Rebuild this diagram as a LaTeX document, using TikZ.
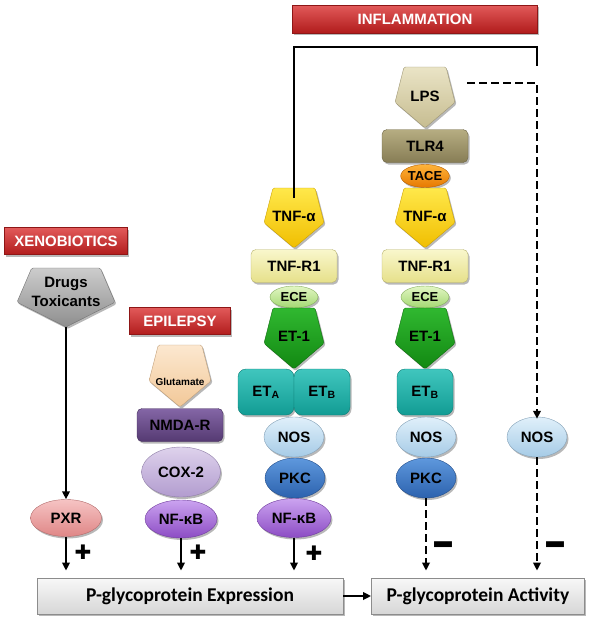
\documentclass[tikz,border=0pt]{standalone}
\usepackage{fontspec}
\setmainfont{Liberation Sans}
\newfontfamily\calib{Carlito}
\newfontfamily\signfont{DejaVu Sans}
\usetikzlibrary{shapes.geometric,shadows,arrows.meta}

\definecolor{redT}{HTML}{E25A5A}\definecolor{redB}{HTML}{B11C1C}
\definecolor{grayT}{HTML}{CCCCCC}\definecolor{grayB}{HTML}{8E8E8E}
\definecolor{peachT}{HTML}{FCE8D0}\definecolor{peachB}{HTML}{F2C898}
\definecolor{nmdaT}{HTML}{8466A6}\definecolor{nmdaB}{HTML}{553A72}
\definecolor{coxT}{HTML}{DED2EC}\definecolor{coxB}{HTML}{B29CCF}
\definecolor{nfkT}{HTML}{CBA3F0}\definecolor{nfkB}{HTML}{8C4CC4}
\definecolor{pxrT}{HTML}{F6C4C4}\definecolor{pxrB}{HTML}{DF8686}
\definecolor{tnfT}{HTML}{FFE84A}\definecolor{tnfB}{HTML}{F0BE00}
\definecolor{tnfrT}{HTML}{F9F7CC}\definecolor{tnfrB}{HTML}{E6E08A}
\definecolor{eceT}{HTML}{E2F6C4}\definecolor{eceB}{HTML}{A4D872}
\definecolor{etT}{HTML}{30B830}\definecolor{etB}{HTML}{128812}
\definecolor{tealT}{HTML}{40C6BE}\definecolor{tealB}{HTML}{129C94}
\definecolor{nosT}{HTML}{E0F0FA}\definecolor{nosB}{HTML}{A6CBE6}
\definecolor{pkcT}{HTML}{5E98DD}\definecolor{pkcB}{HTML}{2C62AE}
\definecolor{lpsT}{HTML}{EAE4C6}\definecolor{lpsB}{HTML}{C6BC90}
\definecolor{tlrT}{HTML}{B6AD82}\definecolor{tlrB}{HTML}{877D55}
\definecolor{taceT}{HTML}{FFB43A}\definecolor{taceB}{HTML}{E67800}
\definecolor{boxT}{HTML}{F8F8F8}\definecolor{boxB}{HTML}{D6D6D6}

\newcommand\lblfont{\fontsize{15}{19}\selectfont\bfseries}
\newcommand\pent[8]{%
  \path[#6,sh,rounded corners=1.5pt] ({#2-0.7*#5},#3) -- ({#2+0.7*#5},#3) -- ({#2+#5},{#3+0.58*(#4-#3)}) -- (#2,#4) -- ({#2-#5},{#3+0.58*(#4-#3)}) -- cycle;
  \node[lbl] (#1) at (#2,{#3+#8*(#4-#3)}) {#7};
  \coordinate (#1-top) at (#2,#3);
  \coordinate (#1-bot) at (#2,#4);
}

\begin{document}
\begin{tikzpicture}[x=1pt,y=-1pt,
  sh/.style={drop shadow={shadow xshift=1.5pt,shadow yshift=-2pt,opacity=0.28,fill=black}},
  lbl/.style={font=\lblfont,inner sep=0pt,text=black,align=center},
  banner/.style={rectangle,sh,top color=redT,bottom color=redB,draw=redB!80!black,line width=0.4pt,
     text=white,font=\fontsize{15}{17}\selectfont\bfseries,inner sep=0pt},
  rbox/.style={rectangle,rounded corners=5pt,sh,minimum width=86pt,minimum height=33pt,inner sep=0pt,font=\lblfont,line width=0.4pt},
  etbox/.style={rbox,rounded corners=8pt,minimum width=56pt,minimum height=46pt,top color=tealT,bottom color=tealB,draw=tealB!80!black},
  ell/.style={ellipse,sh,minimum width=60pt,minimum height=40pt,inner sep=0pt,font=\lblfont,line width=0.4pt},
  cGray/.style={top color=grayT,bottom color=grayB,draw=grayB!80!black,line width=0.4pt},
  cPeach/.style={top color=peachT,bottom color=peachB,draw=peachB!80!black,line width=0.4pt},
  cNmda/.style={top color=nmdaT,bottom color=nmdaB,draw=nmdaB!80!black},
  cCox/.style={top color=coxT,bottom color=coxB,draw=coxB!80!black},
  cNfk/.style={top color=nfkT,bottom color=nfkB,draw=nfkB!80!black},
  cPxr/.style={top color=pxrT,bottom color=pxrB,draw=pxrB!80!black},
  cTnf/.style={top color=tnfT,bottom color=tnfB,draw=tnfB!85!black,line width=0.4pt},
  cTnfr/.style={top color=tnfrT,bottom color=tnfrB,draw=tnfrB!80!black},
  cEce/.style={top color=eceT,bottom color=eceB,draw=eceB!80!black},
  cEt/.style={top color=etT,bottom color=etB,draw=etB!80!black,line width=0.4pt},
  cNos/.style={top color=nosT,bottom color=nosB,draw=nosB!80!black},
  cPkc/.style={top color=pkcT,bottom color=pkcB,draw=pkcB!80!black},
  cLps/.style={top color=lpsT,bottom color=lpsB,draw=lpsB!80!black,line width=0.4pt},
  cTlr/.style={top color=tlrT,bottom color=tlrB,draw=tlrB!80!black},
  cTace/.style={top color=taceT,bottom color=taceB,draw=taceB!80!black},
  pgbox/.style={rectangle,sh,top color=boxT,bottom color=boxB,draw=black!45,line width=0.8pt,
     minimum height=36pt,inner sep=0pt,font=\calib\bfseries\fontsize{19.5}{22}\selectfont},
  arr/.style={line width=2.3pt,-{Triangle[length=8pt,width=7.5pt]}},
  darr/.style={arr,dash pattern=on 8pt off 4pt},
  conn/.style={line width=2pt},
  plus/.style={inner sep=0pt,font=\signfont\fontsize{20}{20}\selectfont},
  minus/.style={inner sep=0pt,font=\signfont\bfseries\fontsize{22}{22}\selectfont}
]
\useasboundingbox (0,0) rectangle (600,621);

% banners
\node[banner,minimum width=245pt,minimum height=28pt] (infl) at (415,19) {INFLAMMATION};
\node[banner,minimum width=123pt,minimum height=27pt] (xeno) at (66,241) {XENOBIOTICS};
\node[banner,minimum width=101pt,minimum height=27pt] (epil) at (180,321) {EPILEPSY};

% xenobiotics column
\pent{drugs}{66}{268}{327}{49}{cGray}{Drugs\\Toxicants}{0.41}
\node[ell,cPxr,minimum width=71pt,minimum height=37pt] (pxr) at (66,518) {PXR};

% epilepsy column
\pent{glut}{180}{345}{407}{31}{cPeach}{\fontsize{10}{12}\selectfont Glutamate}{0.6}
\node[rbox,cNmda] (nmda) at (180,425) {NMDA-R};
\node[ell,cCox,minimum width=79pt,minimum height=50pt] (cox) at (181,472) {COX-2};
\node[ell,cNfk,minimum width=72pt,minimum height=38pt] (nfk1) at (181,519) {NF-κB};

% middle column
\pent{tnfa1}{294}{188}{248}{30}{cTnf}{TNF-α}{0.48}
\node[rbox,cTnfr] (tnfr1) at (294,266) {TNF-R1};
\node[ell,cEce,minimum width=48pt,minimum height=22pt,font=\fontsize{13}{15}\selectfont\bfseries] (ece1) at (294,297) {ECE};
\pent{et1a}{294}{308}{369}{30}{cEt}{ET-1}{0.47}
\node[etbox] (eta) at (266,392) {ET\textsubscript{A}};
\node[etbox] (etb1) at (322,392) {ET\textsubscript{B}};
\node[ell,cNos] (nos1) at (294,437) {NOS};
\node[ell,cPkc] (pkc1) at (295,478) {PKC};
\node[ell,cNfk,minimum width=74pt,minimum height=39pt] (nfk2) at (294,518) {NF-κB};

% right column
\pent{lps}{425}{67}{128}{30}{cLps}{LPS}{0.48}
\node[rbox,cTlr] (tlr) at (425,146) {TLR4};
\node[ell,cTace,minimum width=48pt,minimum height=23pt,font=\fontsize{13}{15}\selectfont\bfseries] (tace) at (425,176) {TACE};
\pent{tnfa2}{425}{188}{248}{30}{cTnf}{TNF-α}{0.48}
\node[rbox,cTnfr] (tnfr2) at (425,266) {TNF-R1};
\node[ell,cEce,minimum width=48pt,minimum height=22pt,font=\fontsize{13}{15}\selectfont\bfseries] (ece2) at (425,297) {ECE};
\pent{et1b}{425}{308}{369}{30}{cEt}{ET-1}{0.47}
\node[etbox] (etb2) at (425,392) {ET\textsubscript{B}};
\node[ell,cNos] (nos2) at (426,437) {NOS};
\node[ell,cPkc] (pkc2) at (426,478) {PKC};

\node[ell,cNos] (nos3) at (537,437) {NOS};

% bottom boxes
\node[pgbox,minimum width=306pt] (expr) at (190,596) {P-glycoprotein Expression};
\node[pgbox,minimum width=213pt] (act) at (478,596) {P-glycoprotein Activity};

% connectors
\coordinate (brkL) at (294,47);
\coordinate (brkR) at (537,47);
\coordinate (brkE) at (537,66);
\draw[conn] ([yshift=-10pt]tnfa1-top) -- (brkL) -- (brkR) -- (brkE);
\coordinate (lpsr) at (467,83);
\draw[darr] (lpsr) -| ([yshift=-2pt]nos3.north);

\draw[arr] (drugs-bot) -- (pxr.north);
\draw[arr] (pxr.south) -- ([yshift=7pt]pxr.south |- expr.north);
\draw[arr] (nfk1.south) -- ([yshift=7pt]nfk1.south |- expr.north);
\draw[arr] (nfk2.south) -- ([yshift=7pt]nfk2.south |- expr.north);
\draw[darr] (pkc2.south) -- ([yshift=7pt]pkc2.south |- act.north);
\draw[darr] (nos3.south) -- ([yshift=7pt]nos3.south |- act.north);
\draw[arr] (expr.east) -- (act.west);

% signs
\node[plus] (s1) at (83,552) {✚};
\node[plus] (s2) at (198,552) {✚};
\node[plus] (s3) at (314,553) {✚};
\node[minus] (s4) at (443,551) {\scalebox{1.3}[2.3]{−}};
\node[minus] (s5) at (555,551) {\scalebox{1.3}[2.3]{−}};
\end{tikzpicture}
\end{document}
